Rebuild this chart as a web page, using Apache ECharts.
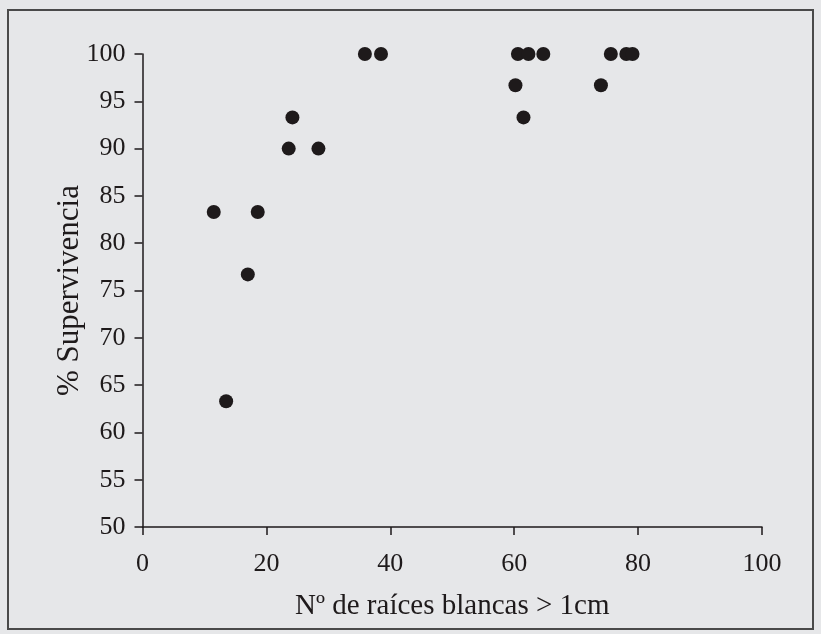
<!DOCTYPE html>
<html>
<head>
<meta charset="utf-8">
<title>Supervivencia vs raíces</title>
<script src="https://cdn.jsdelivr.net/npm/echarts@6/dist/echarts.min.js"></script>
<style>
  html, body { margin: 0; padding: 0; background: #e6e7e9; }
  #chart { width: 821px; height: 634px; }
</style>
</head>
<body>
<div id="chart"></div>
<script>
// nº de raíces blancas > 1cm (x) y % supervivencia (y)
var raices = [11.5, 13.5, 17.0, 18.6, 23.6, 24.2, 28.4, 35.9, 38.5,
              60.2, 60.6, 61.5, 62.3, 64.7, 74.0, 75.6, 78.1, 79.1];
var superv = [83.3, 63.3, 76.7, 83.3, 90.0, 93.3, 90.0, 100, 100,
              96.7, 100, 93.3, 100, 100, 96.7, 100, 100, 100];

var xTicks = [0, 20, 40, 60, 80, 100];
var yTicks = [50, 55, 60, 65, 70, 75, 80, 85, 90, 95, 100];

var puntos = raices.map(function (x, i) { return [x, superv[i]]; });

var fuente = '"Liberation Serif", "Times New Roman", serif';
var tinta = '#1e1a1b';

var myChart = echarts.init(document.getElementById('chart'));
myChart.setOption({
  backgroundColor: '#e6e7e9',
  animation: false,
  graphic: [{
    type: 'rect',
    shape: { x: 8, y: 10, width: 805, height: 619 },
    style: { fill: 'none', stroke: '#4a4a4a', lineWidth: 2 },
    silent: true
  }],
  grid: { left: 142.5, right: 59, top: 54, bottom: 107 },
  xAxis: {
    type: 'value',
    min: xTicks[0],
    max: xTicks[xTicks.length - 1],
    interval: 20,
    name: 'Nº de raíces blancas > 1cm',
    nameLocation: 'middle',
    nameGap: 65,
    nameMoveOverlap: false,
    nameTextStyle: { fontFamily: fuente, fontSize: 29, color: tinta },
    axisLine: { lineStyle: { color: tinta, width: 1.5 } },
    axisTick: { show: true, length: 8, lineStyle: { color: tinta, width: 1.5 } },
    axisLabel: { fontFamily: fuente, fontSize: 26, color: tinta, margin: 24 },
    splitLine: { show: false }
  },
  yAxis: {
    type: 'value',
    min: yTicks[0],
    max: yTicks[yTicks.length - 1],
    interval: 5,
    name: '% Supervivencia',
    nameLocation: 'middle',
    nameGap: 57,
    nameRotate: 90,
    nameMoveOverlap: false,
    nameTextStyle: { fontFamily: fuente, fontSize: 31, color: tinta },
    axisLine: { show: true, lineStyle: { color: tinta, width: 1.5 } },
    axisTick: { show: true, length: 8, lineStyle: { color: tinta, width: 1.5 } },
    axisLabel: { fontFamily: fuente, fontSize: 26, color: tinta, margin: 17 },
    splitLine: { show: false }
  },
  series: [{
    type: 'scatter',
    symbol: 'circle',
    symbolSize: 14,
    itemStyle: { color: tinta, opacity: 1 },
    data: puntos
  }]
});
</script>
</body>
</html>
